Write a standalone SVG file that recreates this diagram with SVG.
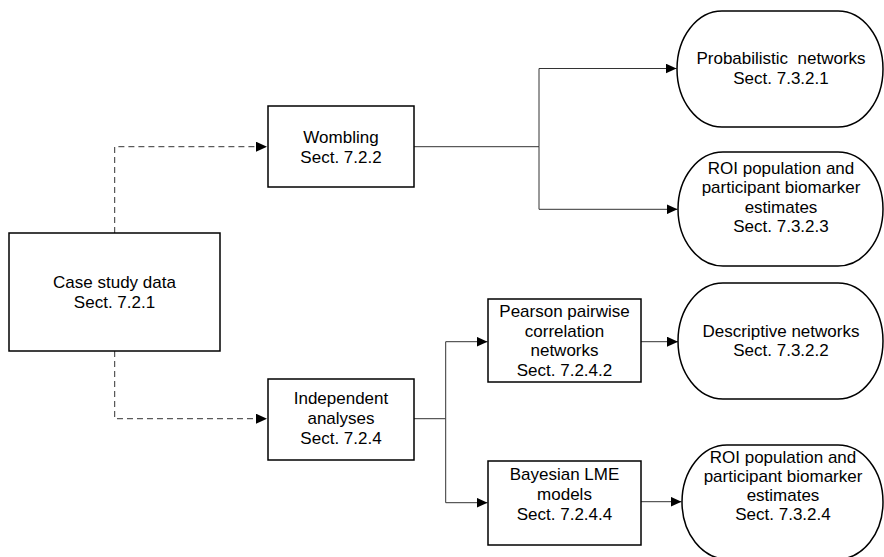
<svg xmlns="http://www.w3.org/2000/svg" width="884" height="557" viewBox="0 0 884 557">
<style>
.box{fill:#fff;stroke:#000;stroke-width:1.5}
.t{font-family:"Liberation Sans",Arial,sans-serif;font-size:17px;fill:#000;text-anchor:middle}
.c{fill:none;stroke:#333;stroke-width:1}
.d{fill:none;stroke:#333;stroke-width:1;stroke-dasharray:6,4}
</style>
<defs>
<marker id="arr" markerUnits="userSpaceOnUse" markerWidth="12" markerHeight="10" refX="11" refY="5" orient="auto">
<path d="M0,0 L11,5 L0,10 Z" fill="#000"/>
</marker>
</defs>
<rect width="884" height="557" fill="#fff"/>
<g id="connectors">
<path class="d" d="M114.7,233 V146.7 H267" marker-end="url(#arr)"/>
<path class="d" d="M114.7,351 V418.7 H267" marker-end="url(#arr)"/>
<path class="c" d="M414,146.7 H539"/>
<path class="c" d="M539,146.7 V68.5 H676.5" marker-end="url(#arr)"/>
<path class="c" d="M539,146.7 V209.3 H677.5" marker-end="url(#arr)"/>
<path class="c" d="M414,418.7 H445.7"/>
<path class="c" d="M445.7,418.7 V341.7 H487.5" marker-end="url(#arr)"/>
<path class="c" d="M445.7,418.7 V502.7 H487.5" marker-end="url(#arr)"/>
<path class="c" d="M641,341.7 H678" marker-end="url(#arr)"/>
<path class="c" d="M641,501.7 H681.5" marker-end="url(#arr)"/>
</g>
<g id="case-study">
<rect class="box" x="9" y="233" width="211" height="118"/>
<text class="t" x="114.5" y="288">Case study data</text>
<text class="t" x="114.5" y="307.5">Sect. 7.2.1</text>
</g>
<g id="wombling">
<rect class="box" x="268" y="106" width="146" height="81"/>
<text class="t" x="341" y="143">Wombling</text>
<text class="t" x="341" y="162.5">Sect. 7.2.2</text>
</g>
<g id="independent">
<rect class="box" x="268" y="379" width="146" height="81"/>
<text class="t" x="341" y="404">Independent</text>
<text class="t" x="341" y="424">analyses</text>
<text class="t" x="341" y="444">Sect. 7.2.4</text>
</g>
<g id="pearson">
<rect class="box" x="488" y="299" width="153" height="83"/>
<text class="t" x="564.5" y="317">Pearson pairwise</text>
<text class="t" x="564.5" y="336.5">correlation</text>
<text class="t" x="564.5" y="356">networks</text>
<text class="t" x="564.5" y="375.5">Sect. 7.2.4.2</text>
</g>
<g id="bayesian">
<rect class="box" x="488" y="461" width="153" height="84"/>
<text class="t" x="564.5" y="480">Bayesian LME</text>
<text class="t" x="564.5" y="500">models</text>
<text class="t" x="564.5" y="519.5">Sect. 7.2.4.4</text>
</g>
<g id="probabilistic">
<rect class="box" x="677" y="11" width="206" height="116" rx="45" ry="58"/>
<text class="t" x="781" y="63.5" xml:space="preserve">Probabilistic  networks</text>
<text class="t" x="781" y="83.5">Sect. 7.3.2.1</text>
</g>
<g id="roi-1">
<rect class="box" x="678" y="152" width="205" height="114" rx="45" ry="57"/>
<text class="t" x="781" y="173.5">ROI population and</text>
<text class="t" x="781" y="193">participant biomarker</text>
<text class="t" x="781" y="212.5">estimates</text>
<text class="t" x="781" y="232">Sect. 7.3.2.3</text>
</g>
<g id="descriptive">
<rect class="box" x="678" y="283" width="205" height="116" rx="45" ry="58"/>
<text class="t" x="781" y="337">Descriptive networks</text>
<text class="t" x="781" y="356">Sect. 7.3.2.2</text>
</g>
<g id="roi-2">
<rect class="box" x="682" y="445" width="201" height="114" rx="45" ry="57"/>
<text class="t" x="783" y="462.5">ROI population and</text>
<text class="t" x="783" y="482">participant biomarker</text>
<text class="t" x="783" y="501">estimates</text>
<text class="t" x="783" y="520">Sect. 7.3.2.4</text>
</g>
</svg>
